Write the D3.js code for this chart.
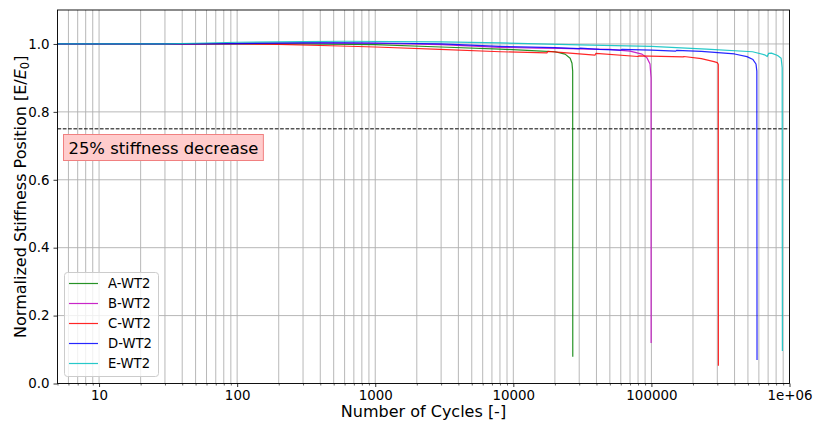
<!DOCTYPE html>
<html>
<head>
<meta charset="utf-8">
<script src="https://cdn.jsdelivr.net/npm/d3@7"></script>
<style>
  html, body { margin: 0; padding: 0; background: #fff; }
  svg { display: block; font-family: "DejaVu Sans", sans-serif; }
</style>
</head>
<body>
<svg id="chart" width="815" height="423"></svg>
<script>
// Stiffness degradation of five specimens (cycles vs. normalized stiffness)
const seriesNames = ["A-WT2", "B-WT2", "C-WT2", "D-WT2", "E-WT2"];
const seriesColors = ["#008000", "#bf00bf", "#ff0000", "#0000ff", "#00bfbf"];

const cyclesA = [5, 50, 100, 300, 1000, 3000, 8000, 16000, 20000, 23700, 25800, 26600, 26900, 26950];
const stiffA  = [1.0, 1.0, 1.0, 1.0, 0.998, 0.991, 0.985, 0.979, 0.977, 0.970, 0.958, 0.943, 0.92, 0.079];

const cyclesB = [5, 50, 100, 300, 1000, 3000, 8000, 15000, 22000, 35000, 50000, 70000, 85500, 92900, 97700, 99400, 99500];
const stiffB  = [1.0, 1.0, 1.002, 1.003, 1.002, 0.998, 0.990, 0.988, 0.987, 0.985, 0.984, 0.979, 0.970, 0.959, 0.941, 0.90, 0.119];

const cyclesC = [5, 50, 100, 200, 560, 1000, 2950, 8100, 17500, 17800, 39000, 39600, 80000, 81000, 170000, 172000, 230000, 284000, 300000, 305000, 305500];
const stiffC  = [1.0, 1.0, 1.0, 0.999, 0.994, 0.991, 0.984, 0.977, 0.9735, 0.978, 0.967, 0.972, 0.963, 0.965, 0.962, 0.963, 0.957, 0.948, 0.945, 0.940, 0.052];

const cyclesD = [5, 50, 100, 300, 600, 1500, 3000, 8000, 20000, 30000, 30500, 42000, 60000, 61000, 100000, 150000, 152000, 230000, 400000, 492000, 544000, 572000, 580000, 582000];
const stiffD  = [1.0, 1.0, 1.001, 1.003, 1.003, 1.002, 1.0, 0.993, 0.989, 0.986, 0.988, 0.984, 0.982, 0.984, 0.982, 0.979, 0.981, 0.978, 0.9705, 0.9626, 0.954, 0.941, 0.92, 0.069];

const cyclesE = [5, 30, 50, 100, 300, 600, 3000, 8000, 30000, 100000, 250000, 540000, 660000, 690000, 705000, 740000, 820000, 870000, 885000, 888000];
const stiffE  = [1.0, 1.0, 1.002, 1.005, 1.007, 1.008, 1.006, 1.003, 0.997, 0.9926, 0.9845, 0.977, 0.968, 0.963, 0.972, 0.973, 0.966, 0.958, 0.93, 0.096];

const allCycles = [cyclesA, cyclesB, cyclesC, cyclesD, cyclesE];
const allStiff  = [stiffA, stiffB, stiffC, stiffD, stiffE];

const xTickValues = [10, 100, 1000, 10000, 100000, 1000000];
const xTickLabels = ["10", "100", "1000", "10000", "100000", "1e+06"];
const yTickValues = [0.0, 0.2, 0.4, 0.6, 0.8, 1.0];
const yTickLabels = ["0.0", "0.2", "0.4", "0.6", "0.8", "1.0"];

const thresholdValue = 0.75;
const thresholdLabel = "25% stiffness decrease";
const xLabel = "Number of Cycles [-]";

// Plot area
const plotL = 57.5, plotR = 789.5, plotT = 10, plotB = 383.5;

const svg = d3.select("#chart");
const x = d3.scaleLog().domain([5, 1e6]).range([plotL, plotR]);
const y = d3.scaleLinear().domain([0, 1.1]).range([plotB, plotT]);

// Grid: all minor and major decade lines on x, major ticks on y
const gridColor = "#b0b0b0";
const grid = svg.append("g");
grid.selectAll("line.vx")
  .data(x.ticks())
  .join("line")
  .attr("x1", d => x(d)).attr("x2", d => x(d))
  .attr("y1", plotT).attr("y2", plotB)
  .attr("stroke", gridColor).attr("stroke-width", 0.9);
grid.selectAll("line.hy")
  .data(yTickValues)
  .join("line")
  .attr("x1", plotL).attr("x2", plotR)
  .attr("y1", d => y(d)).attr("y2", d => y(d))
  .attr("stroke", gridColor).attr("stroke-width", 0.9);

// Threshold
svg.append("line")
  .attr("x1", plotL).attr("x2", plotR)
  .attr("y1", y(thresholdValue)).attr("y2", y(thresholdValue))
  .attr("stroke", "#000").attr("stroke-width", 1)
  .attr("stroke-dasharray", "3.7,1.6");

// Curves
const line = d3.line().x(d => x(d[0])).y(d => y(d[1]));
seriesNames.forEach((name, i) => {
  const pts = allCycles[i].map((c, j) => [c, allStiff[i][j]]);
  svg.append("path")
    .datum(pts)
    .attr("d", line)
    .attr("fill", "none")
    .attr("stroke", seriesColors[i])
    .attr("stroke-width", 1.2)
    .attr("stroke-opacity", 0.85)
    .attr("stroke-linejoin", "round");
});

// Axes
const xAxis = d3.axisBottom(x)
  .tickValues(xTickValues)
  .tickFormat((d, i) => xTickLabels[i])
  .tickSize(3.5).tickPadding(3);
const gx = svg.append("g").attr("transform", `translate(0,${plotB})`).call(xAxis);
const xMinor = d3.axisBottom(x)
  .tickValues(x.ticks().filter(t => !xTickValues.includes(t)))
  .tickFormat("").tickSize(2);
const gxm = svg.append("g").attr("transform", `translate(0,${plotB})`).call(xMinor);
gxm.select(".domain").remove();

const yAxis = d3.axisLeft(y)
  .tickValues(yTickValues)
  .tickFormat((d, i) => yTickLabels[i])
  .tickSize(4).tickPadding(4);
const gy = svg.append("g").attr("transform", `translate(${plotL},0)`).call(yAxis);

[gx, gy].forEach(g => {
  g.select(".domain").remove();
  g.selectAll("text").attr("font-family", "DejaVu Sans").attr("font-size", 13.4).attr("fill", "#000");
  g.selectAll("line").attr("stroke", "#000").attr("stroke-width", 0.8);
});
gxm.selectAll("line").attr("stroke", "#000").attr("stroke-width", 0.6);

// Frame
svg.append("rect")
  .attr("x", plotL).attr("y", plotT)
  .attr("width", plotR - plotL).attr("height", plotB - plotT)
  .attr("fill", "none").attr("stroke", "#000").attr("stroke-width", 0.9);

// Threshold annotation box
const annot = svg.append("g");
const annText = annot.append("text")
  .attr("x", 68.5).attr("y", 153.5)
  .attr("font-size", 16.4).attr("fill", "#000")
  .text(thresholdLabel);
const bb = annText.node().getBBox();
annot.insert("rect", "text")
  .attr("x", 63.5).attr("y", 134.5)
  .attr("width", bb.width + 10).attr("height", 26)
  .attr("fill", "#ffcccc").attr("stroke", "#f08080").attr("stroke-width", 1);

// Axis labels
svg.append("text")
  .attr("x", (plotL + plotR) / 2).attr("y", 416.5)
  .attr("text-anchor", "middle").attr("font-size", 16)
  .text(xLabel);

const yl = svg.append("text")
  .attr("transform", `translate(26,${(plotT + plotB) / 2}) rotate(-90)`)
  .attr("text-anchor", "middle").attr("font-size", 16);
yl.append("tspan").text("Normalized Stiffness Position [E/");
yl.append("tspan").attr("font-style", "italic").text("E");
yl.append("tspan").attr("font-size", 11.5).attr("dy", 3).text("0");
yl.append("tspan").attr("dy", -3).text("]");

// Legend
const lg = svg.append("g");
lg.append("rect")
  .attr("x", 64.5).attr("y", 272.5).attr("width", 94).attr("height", 104)
  .attr("rx", 3).attr("fill", "#fff").attr("fill-opacity", 0.8)
  .attr("stroke", "#cccccc").attr("stroke-width", 1);
seriesNames.forEach((name, i) => {
  const yy = 283.5 + i * 20;
  lg.append("line")
    .attr("x1", 69).attr("x2", 98).attr("y1", yy).attr("y2", yy)
    .attr("stroke", seriesColors[i]).attr("stroke-width", 1.2).attr("stroke-opacity", 0.85);
  lg.append("text")
    .attr("x", 108).attr("y", yy + 4.8)
    .attr("font-size", 13.2).attr("fill", "#000")
    .text(name);
});
</script>
</body>
</html>
